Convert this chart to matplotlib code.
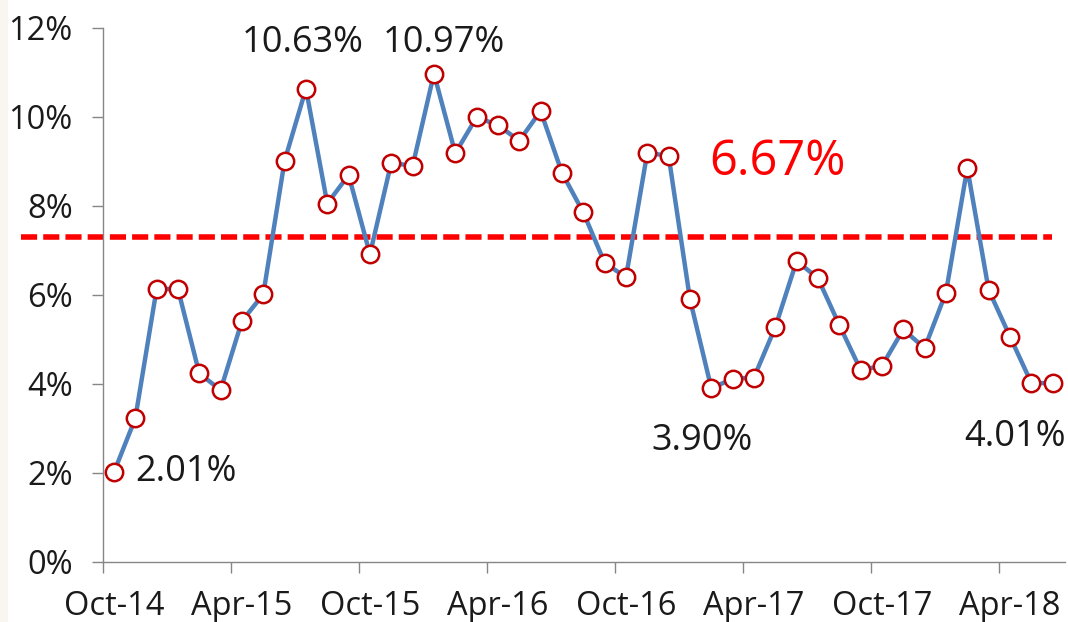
import numpy as np
import matplotlib
matplotlib.use("Agg")
import matplotlib.pyplot as plt
from matplotlib.patches import Rectangle

plt.rcParams['font.family'] = ['Open Sans', 'DejaVu Sans']

# monthly rate, Oct-14 .. Jun-18 (%)
rate = [2.01, 3.22, 6.13, 6.13, 4.23, 3.86, 5.41, 6.01, 9.01, 10.63,
        8.05, 8.69, 6.91, 8.97, 8.89, 10.97, 9.18, 9.99, 9.81, 9.46,
        10.13, 8.74, 7.85, 6.72, 6.39, 9.19, 9.12, 5.90, 3.90, 4.11,
        4.14, 5.27, 6.76, 6.37, 5.32, 4.31, 4.40, 5.22, 4.80, 6.05,
        8.85, 6.11, 5.06, 4.02, 4.01]
tick_labels = ['Oct-14', 'Apr-15', 'Oct-15', 'Apr-16', 'Oct-16', 'Apr-17', 'Oct-17', 'Apr-18']
avg_level = 7.30
avg_label = '6.67%'

# points to call out: index -> (offset x px, offset y px)
callouts = {0: (72, 0), 9: (-3, 46), 15: (10, 31), 28: (-9, -53), 44: (-38, -54)}

fig = plt.figure(figsize=(10.68, 6.22), dpi=100)
fig.patches.append(Rectangle((0, 0), 7 / 1068, 1, transform=fig.transFigure,
                             color='#f8f6ee', zorder=0))
ax = fig.add_axes([0.0967, 0.0969, 0.9005, 0.8585])

x = np.arange(len(rate)) + 0.5
ax.plot(x, rate, color='#4f81bd', lw=3.2, marker='o', ms=12.5,
        mfc='white', mec='#c00000', mew=1.8, zorder=3)

# average line, runs past the y axis
ax.plot([-0.0856, 0.9865], [avg_level, avg_level], transform=ax.get_yaxis_transform(),
        color='#ff0000', lw=4, ls=(0, (2.9, 1.1)), clip_on=False, zorder=2)
ax.text(31.6, avg_level + 75 / 44.5, avg_label, color='#ff0000', fontsize=35,
        ha='center', va='center')

for i, (dx, dy) in callouts.items():
    ax.annotate(f'{rate[i]:.2f}%', (x[i], rate[i]), xytext=(dx, dy),
                textcoords='offset pixels', ha='center', va='center',
                fontsize=26, color='#1a1a1a')

ax.set_xlim(0, 45.08)
ax.set_ylim(0, 12)
ax.set_yticks(np.arange(0, 13, 2))
ax.set_yticklabels([f'{v}%' for v in range(0, 13, 2)])
ax.set_xticks(np.arange(0, 45, 6))
ax.set_xticklabels([])
ax.set_xticks(np.arange(0, 45, 6) + 0.5, minor=True)
ax.set_xticklabels(tick_labels, minor=True)
ax.tick_params(axis='x', which='minor', length=0, pad=20, labelsize=23.5, colors='#1a1a1a')
ax.tick_params(axis='x', which='major', length=8, width=1, color='#868686')
ax.tick_params(axis='y', length=8, width=1, color='#868686', pad=14,
               labelsize=23.5, labelcolor='#1a1a1a')

for s in ['top', 'right']:
    ax.spines[s].set_visible(False)
for s in ['left', 'bottom']:
    ax.spines[s].set_color('#868686')
    ax.spines[s].set_linewidth(1)

fig.savefig('out.png', dpi=100)
